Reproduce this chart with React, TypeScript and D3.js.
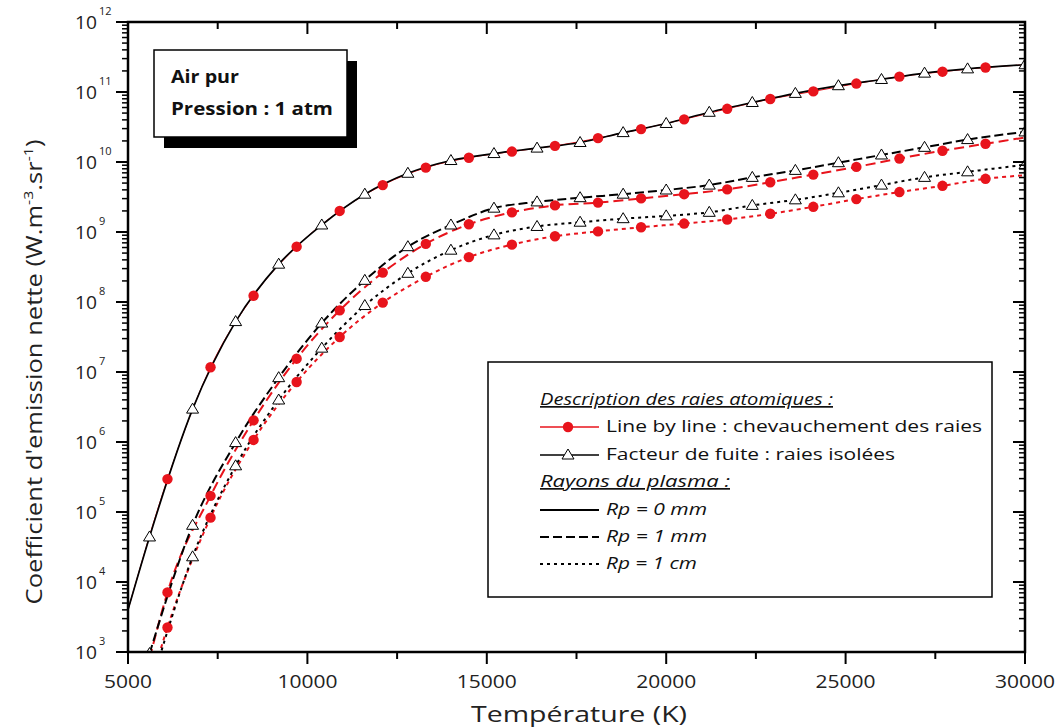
import React from "react";
import * as d3 from "d3";

// Marker temperatures (K)
const tempsTriangle = [5600, 6800, 8000, 9200, 10400, 11600, 12800, 14000, 15200, 16400, 17600, 18800, 20000, 21200, 22400, 23600, 24800, 26000, 27200, 28400, 30000];
const tempsCircle = [6100, 7300, 8500, 9700, 10900, 12100, 13300, 14500, 15700, 16900, 18100, 19300, 20500, 21700, 22900, 24100, 25300, 26500, 27700, 28900];

// Facteur de fuite (triangles)
const fuiteRp0 = [4.4e4, 2.95e6, 5.25e7, 3.47e8, 1.26e9, 3.47e9, 6.9e9, 1.05e10, 1.32e10, 1.58e10, 1.9e10, 2.63e10, 3.55e10, 5.13e10, 7.08e10, 9.55e10, 1.23e11, 1.51e11, 1.86e11, 2.14e11, 2.45e11];
const fuiteRp1mm = [9.5e2, 6.46e4, 9.8e5, 8.3e6, 5.0e7, 2.04e8, 6.17e8, 1.26e9, 2.19e9, 2.69e9, 3.09e9, 3.47e9, 3.98e9, 4.68e9, 6.03e9, 7.59e9, 9.77e9, 1.26e10, 1.62e10, 2.09e10, 2.69e10];
const fuiteRp1cm = [2.8e2, 2.29e4, 4.57e5, 3.98e6, 2.19e7, 8.9e7, 2.57e8, 5.5e8, 9.1e8, 1.2e9, 1.38e9, 1.55e9, 1.7e9, 1.91e9, 2.4e9, 2.88e9, 3.63e9, 4.68e9, 6.03e9, 7.24e9, 9.1e9];

// Line by line (circles)
const lblRp0 = [2.95e5, 1.17e7, 1.23e8, 6.17e8, 2.0e9, 4.68e9, 8.3e9, 1.15e10, 1.41e10, 1.7e10, 2.19e10, 2.95e10, 4.07e10, 5.75e10, 7.94e10, 1.02e11, 1.32e11, 1.66e11, 1.95e11, 2.24e11];
const lblRp1mm = [7.1e3, 1.7e5, 2.04e6, 1.55e7, 7.6e7, 2.63e8, 6.76e8, 1.29e9, 1.91e9, 2.4e9, 2.63e9, 3.02e9, 3.47e9, 4.07e9, 5.13e9, 6.61e9, 8.51e9, 1.12e10, 1.45e10, 1.82e10];
const lblRp1cm = [2.24e3, 8.3e4, 1.07e6, 7.2e6, 3.16e7, 9.8e7, 2.29e8, 4.37e8, 6.6e8, 8.7e8, 1.02e9, 1.17e9, 1.32e9, 1.51e9, 1.82e9, 2.29e9, 2.95e9, 3.72e9, 4.57e9, 5.75e9];

// Curve ends (where lines run beyond the markers)
const lblStartT = [5000, 5600, 5600];
const lblStartV = [4.0e3, 8.0e2, 3.2e2];
const lblEndT = [30000, 30000, 30000];
const lblEndV = [2.45e11, 2.24e10, 6.46e9];
const fuiteStartT = [5000];
const fuiteStartV = [4.0e3];

const xTicks = [5000, 10000, 15000, 20000, 25000, 30000];
const xMinorTicks = [7500, 12500, 17500, 22500, 27500];
const yExponents = [3, 4, 5, 6, 7, 8, 9, 10, 11, 12];
const radiusLabels = ["Rp = 0 mm", "Rp = 1 mm", "Rp = 1 cm"];

const RED = "#e8141c";
const FONT = "'Open Sans', 'DejaVu Sans', sans-serif";

const L = 128, R = 1025, T = 22, B = 652;
const x = d3.scaleLinear().domain([5000, 30000]).range([L, R]);
const y = d3.scaleLog().domain([1e3, 1e12]).range([B, T]);

const line = d3
  .line<[number, number]>()
  .x((d) => x(d[0]))
  .y((d) => y(d[1]))
  .curve(d3.curveMonotoneX);

function zip(ts: number[], vs: number[]): [number, number][] {
  return ts.map((t, i) => [t, vs[i]] as [number, number]);
}

function tri(cx: number, cy: number, w = 12, h = 10) {
  return `M${cx},${cy - h * 0.6} L${cx + w / 2},${cy + h * 0.4} L${cx - w / 2},${cy + h * 0.4} Z`;
}

export default function App() {
  const dashes = ["none", "9,4", "3,4"];
  const redDashes = ["none", "10,5", "4,4"];
  const fuite = [fuiteRp0, fuiteRp1mm, fuiteRp1cm];
  const lbl = [lblRp0, lblRp1mm, lblRp1cm];

  const redLines = lbl.map((vals, i) => {
    const pts: [number, number][] = [[lblStartT[i], lblStartV[i]], ...zip(tempsCircle, vals), [lblEndT[i], lblEndV[i]]];
    return line(pts) as string;
  });
  const blackLines = fuite.map((vals, i) => {
    const pts: [number, number][] = zip(tempsTriangle, vals);
    if (i === 0) pts.unshift([fuiteStartT[0], fuiteStartV[0]]);
    return line(pts) as string;
  });

  const minorY: number[] = [];
  for (let e = 3; e < 12; e++) for (let m = 2; m <= 9; m++) minorY.push(m * Math.pow(10, e));

  const fit = (len: number) => ({ textLength: len, lengthAdjust: "spacingAndGlyphs" as const });

  return (
    <svg width={1062} height={728} style={{ position: "absolute", left: 0, top: 0, background: "#fff" }} fontFamily={FONT}>
      <defs>
        <clipPath id="plot">
          <rect x={L} y={T} width={R - L} height={B - T} />
        </clipPath>
      </defs>
      <rect x={0} y={0} width={1062} height={728} fill="#fff" />

      <g clipPath="url(#plot)">
        {redLines.map((d, i) => (
          <path key={"r" + i} d={d} fill="none" stroke={RED} strokeWidth={i === 0 ? 1 : 2} strokeDasharray={redDashes[i]} />
        ))}
        {blackLines.map((d, i) => (
          <path key={"b" + i} d={d} fill="none" stroke="#000" strokeWidth={i === 0 ? 1.7 : 2} strokeDasharray={dashes[i]} />
        ))}
        {lbl.map((vals, i) =>
          vals.map((v, j) => <circle key={`c${i}-${j}`} cx={x(tempsCircle[j])} cy={y(v)} r={5.2} fill={RED} />)
        )}
        {fuite.map((vals, i) =>
          vals.map((v, j) => (
            <path key={`t${i}-${j}`} d={tri(x(tempsTriangle[j]), y(v))} fill="#fff" stroke="#000" strokeWidth={1} />
          ))
        )}
      </g>

      {/* Frame */}
      <rect x={L} y={T} width={R - L} height={B - T} fill="none" stroke="#000" strokeWidth={2.5} />

      {/* X ticks */}
      {xTicks.map((t) => (
        <g key={"xt" + t}>
          <line x1={x(t)} x2={x(t)} y1={B} y2={B + 12} stroke="#000" strokeWidth={2} />
          <line x1={x(t)} x2={x(t)} y1={T} y2={T + 12} stroke="#000" strokeWidth={2} />
          <text x={x(t)} y={688} textAnchor="middle" fontSize={18} fill="#222" {...fit(String(t).length * 12)}>
            {t}
          </text>
        </g>
      ))}
      {xMinorTicks.map((t) => (
        <g key={"xm" + t}>
          <line x1={x(t)} x2={x(t)} y1={B} y2={B + 7} stroke="#000" strokeWidth={2} />
          <line x1={x(t)} x2={x(t)} y1={T} y2={T + 7} stroke="#000" strokeWidth={2} />
        </g>
      ))}

      {/* Y ticks */}
      {yExponents.map((e) => {
        const yy = y(Math.pow(10, e));
        return (
          <g key={"yt" + e}>
            <line x1={L - 12} x2={L} y1={yy} y2={yy} stroke="#000" strokeWidth={2} />
            <line x1={R - 12} x2={R} y1={yy} y2={yy} stroke="#000" strokeWidth={2} />
            <text x={97} y={yy + 7} textAnchor="end" fontSize={18} fill="#222" {...fit(22)}>
              10
            </text>
            <text x={99} y={yy - 7} fontSize={11} fill="#222">
              {e}
            </text>
          </g>
        );
      })}
      {minorY.map((v, i) => (
        <g key={"ym" + i}>
          <line x1={L - 6} x2={L} y1={y(v)} y2={y(v)} stroke="#000" strokeWidth={1.5} />
          <line x1={R - 6} x2={R} y1={y(v)} y2={y(v)} stroke="#000" strokeWidth={1.5} />
        </g>
      ))}

      {/* Axis titles */}
      <text x={579} y={722} textAnchor="middle" fontSize={21} fill="#222" {...fit(216)}>
        Température (K)
      </text>
      <g transform="translate(42,372) rotate(-90) scale(1.22,1)">
        <text x={0} y={0} textAnchor="middle" fontSize={21} fill="#222">
          <tspan>Coefficient d'emission nette (W.m</tspan>
          <tspan fontSize={13} dy={-9}>-3</tspan>
          <tspan dy={9}>.sr</tspan>
          <tspan fontSize={13} dy={-9}>-1</tspan>
          <tspan dy={9}>)</tspan>
        </text>
      </g>

      {/* Info box with shadow */}
      <rect x={164} y={61} width={193} height={87} fill="#000" />
      <rect x={154} y={50} width={193} height={87} fill="#fff" stroke="#000" strokeWidth={1.5} />
      <text x={171} y={83} fontSize={17} fontWeight="bold" fill="#111" {...fit(68)}>
        Air pur
      </text>
      <text x={171} y={115} fontSize={17} fontWeight="bold" fill="#111" {...fit(162)}>
        Pression : 1 atm
      </text>

      {/* Legend */}
      <rect x={488} y={362} width={504} height={235} fill="#fff" stroke="#000" strokeWidth={1.5} />
      <text x={540} y={405} fontSize={17} fontStyle="italic" textDecoration="underline" fill="#111" {...fit(293)}>
        Description des raies atomiques :
      </text>
      <line x1={540} x2={599} y1={427} y2={427} stroke={RED} strokeWidth={1.5} />
      <circle cx={568} cy={427} r={5.2} fill={RED} />
      <text x={606} y={432} fontSize={17} fill="#111" {...fit(376)}>
        Line by line : chevauchement des raies
      </text>
      <line x1={540} x2={599} y1={455} y2={455} stroke="#000" strokeWidth={1.5} />
      <path d={tri(568, 455)} fill="#fff" stroke="#000" strokeWidth={1} />
      <text x={606} y={460} fontSize={17} fill="#111" {...fit(289)}>
        Facteur de fuite : raies isolées
      </text>
      <text x={540} y={487} fontSize={17} fontStyle="italic" textDecoration="underline" fill="#111" {...fit(190)}>
        Rayons du plasma :
      </text>
      {radiusLabels.map((lab, i) => (
        <g key={"lg" + i}>
          <line x1={540} x2={599} y1={510 + 27 * i} y2={510 + 27 * i} stroke="#000" strokeWidth={2} strokeDasharray={dashes[i]} />
          <text x={606} y={515 + 27 * i} fontSize={17} fontStyle="italic" fill="#111" {...fit(i === 2 ? 91 : 101)}>
            {lab}
          </text>
        </g>
      ))}
    </svg>
  );
}
